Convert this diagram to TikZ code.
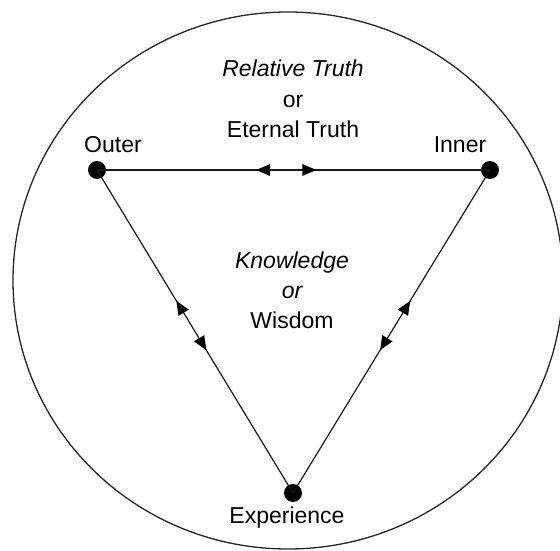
\documentclass[tikz,border=0pt]{standalone}
\usepackage{fontspec}
\setmainfont{Liberation Sans}
\usetikzlibrary{decorations.markings}
\tikzset{
  dot/.style={circle, fill=black, inner sep=0pt, minimum size=18pt},
  lbl/.style={anchor=base, inner sep=0pt, font=\fontsize{23}{30}\selectfont},
  edge/.style={line width=1.2pt, draw=black!90},
  twoway/.style={edge, postaction={decorate}, decoration={markings,
    mark=at position 0.405 with {\fill[black] (0pt,0pt) -- (14pt,6pt) -- (14pt,-6pt) -- cycle;},
    mark=at position 0.558 with {\fill[black] (0pt,0pt) -- (-14pt,6pt) -- (-14pt,-6pt) -- cycle;}}}
}
\begin{document}
\begin{tikzpicture}[x=1pt,y=-1pt]
\useasboundingbox (0,0) rectangle (560,551);
\clip (0,0) rectangle (560,551);
\draw[line width=1.3pt, black!85] (288,280.5) ellipse [x radius=275, y radius=268.5];
\node[dot] (outer) at (97,170) {};
\node[dot] (inner) at (490,170) {};
\node[dot] (exp) at (293,493) {};
\draw[twoway] (outer.center) -- (inner.center);
\draw[twoway] (outer.center) -- (exp.center);
\draw[twoway] (inner.center) -- (exp.center);
\node[lbl] (outerlbl) at (113,152) {Outer};
\node[lbl] (innerlbl) at (460,152) {Inner};
\node[lbl] (explbl) at (287,523) {Experience};
\node[lbl] (rt) at (293,77) {\itshape Relative Truth};
\node[lbl] (or1) at (293,107) {or};
\node[lbl] (et) at (293,137) {Eternal Truth};
\node[lbl] (kn) at (292,268) {\itshape Knowledge};
\node[lbl] (or2) at (292,298) {\itshape or};
\node[lbl] (wi) at (292,328) {Wisdom};
\end{tikzpicture}
\end{document}
